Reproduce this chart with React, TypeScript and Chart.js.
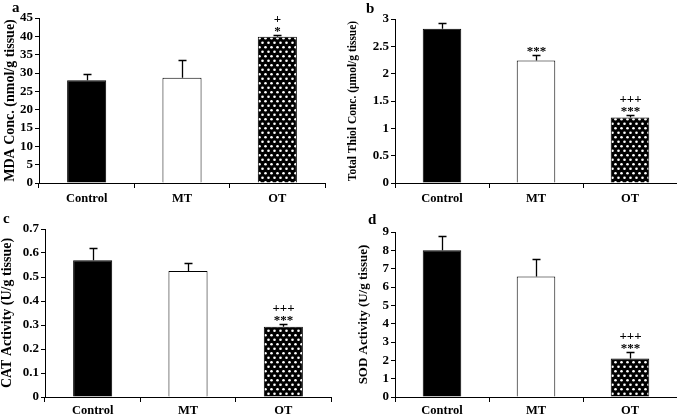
import React, { useEffect, useRef } from "react";
import { Chart, registerables } from "chart.js";

Chart.register(...registerables);

// ---------- data ----------
const categories = ["Control", "MT", "OT"];

const mdaMeans = [28.0, 28.7, 39.9];
const mdaErrors = [1.8, 4.9, 0.4];
const mdaMarks: string[][] = [[], [], ["+", "*"]];

const thiolMeans = [2.82, 2.24, 1.2];
const thiolErrors = [0.1, 0.11, 0.05];
const thiolMarks: string[][] = [[], ["***"], ["+++", "***"]];

const catMeans = [0.57, 0.525, 0.293];
const catErrors = [0.05, 0.035, 0.012];
const catMarks: string[][] = [[], [], ["+++", "***"]];

const sodMeans = [8.0, 6.57, 2.1];
const sodErrors = [0.78, 0.93, 0.37];
const sodMarks: string[][] = [[], [], ["+++", "***"]];

const mdaAxis = { max: 45, step: 5 };
const thiolAxis = { max: 3, step: 0.5 };
const catAxis = { max: 0.7, step: 0.1 };
const sodAxis = { max: 9, step: 1 };

const FONT = "'Times New Roman', 'Liberation Serif', serif";

type PanelSpec = {
  x: number; y: number; w: number; h: number;
  l: number; t: number; r: number; b: number;
  means: number[]; errors: number[]; marks: string[][];
  axis: { max: number; step: number };
  title: string; titleSize: number; titlePad: number;
  xLabelPad: number;
};

function makePattern(): CanvasPattern | string {
  const c = document.createElement("canvas");
  c.width = 6;
  c.height = 9;
  const g = c.getContext("2d");
  if (!g) return "#000";
  g.fillStyle = "#000";
  g.fillRect(0, 0, 6, 9);
  g.fillStyle = "#fff";
  g.beginPath();
  g.arc(1.5, 2.2, 1.3, 0, Math.PI * 2);
  g.fill();
  g.beginPath();
  g.arc(4.5, 6.7, 1.3, 0, Math.PI * 2);
  g.fill();
  return g.createPattern(c, "repeat") || "#000";
}

function fmt(v: number) {
  return String(Math.round(v * 1000) / 1000);
}

function errPlugin(errors: number[], marks: string[][]) {
  return {
    id: "errbars",
    afterDatasetsDraw(chart: any) {
      const ctx = chart.ctx as CanvasRenderingContext2D;
      const meta = chart.getDatasetMeta(0);
      const ys = chart.scales.y;
      const vals = chart.data.datasets[0].data as number[];
      ctx.save();
      meta.data.forEach((bar: any, i: number) => {
        const x = Math.round(bar.x) + 0.5;
        const y0 = ys.getPixelForValue(vals[i]);
        const y1 = Math.round(ys.getPixelForValue(vals[i] + errors[i])) + 0.5;
        ctx.strokeStyle = "#000";
        ctx.lineWidth = 1.3;
        ctx.beginPath();
        ctx.moveTo(x, y0);
        ctx.lineTo(x, y1);
        ctx.moveTo(x - 4, y1);
        ctx.lineTo(x + 4, y1);
        ctx.stroke();
        const lines = marks[i];
        ctx.fillStyle = "#000";
        ctx.textAlign = "center";
        ctx.textBaseline = "alphabetic";
        ctx.font = `bold 13px ${FONT}`;
        const n = lines.length;
        lines.forEach((txt, k) => {
          const center = y1 - 8 - (n - 1 - k) * 9.5;
          const base = txt.includes("*") ? center + 7 : center + 4.5;
          ctx.fillText(txt, x, base);
        });
      });
      ctx.restore();
    },
  };
}

function Panel(p: PanelSpec) {
  const ref = useRef<HTMLCanvasElement>(null);
  useEffect(() => {
    const canvas = ref.current;
    if (!canvas) return;
    const fills = ["#000", "#fff", makePattern()];
    const chart = new Chart(canvas, {
      type: "bar",
      data: {
        labels: categories,
        datasets: [
          {
            data: p.means,
            backgroundColor: fills as any,
            borderColor: "#000",
            borderWidth: 1,
            barPercentage: 0.41,
            categoryPercentage: 1,
          },
        ],
      },
      options: {
        animation: false,
        responsive: false,
        devicePixelRatio: 1,
        layout: { padding: { top: p.t, right: p.w - p.r, left: 0, bottom: 0 } },
        plugins: { legend: { display: false }, tooltip: { enabled: false } },
        scales: {
          x: {
            grid: { drawOnChartArea: false, drawTicks: true, tickLength: 5, color: "#000", offset: true },
            border: { color: "#000", width: 1 },
            ticks: { color: "#000", font: { family: FONT, size: 12.5, weight: "bold" }, padding: p.xLabelPad },
            afterFit: (s: any) => { s.height = p.h - p.b; },
          },
          y: {
            min: 0,
            max: p.axis.max,
            ticks: {
              stepSize: p.axis.step,
              autoSkip: false,
              color: "#000",
              font: { family: FONT, size: 13, weight: "bold", lineHeight: 1 },
              padding: 2,
              callback: (v: any) => fmt(Number(v)),
            },
            grid: { drawOnChartArea: false, drawTicks: true, tickLength: 4, color: "#000" },
            border: { color: "#000", width: 1 },
            title: {
              display: true,
              text: p.title,
              color: "#000",
              font: { family: FONT, size: p.titleSize, weight: "bold", lineHeight: 1 },
              padding: { top: p.titlePad, bottom: 0 },
            },
            afterFit: (s: any) => { s.width = p.l; },
          },
        },
      } as any,
      plugins: [errPlugin(p.errors, p.marks)],
    });
    return () => chart.destroy();
  }, []);
  return (
    <canvas
      ref={ref}
      width={p.w}
      height={p.h}
      style={{ position: "absolute", left: p.x, top: p.y, width: p.w, height: p.h }}
    />
  );
}

const letterStyle: React.CSSProperties = {
  position: "absolute",
  fontFamily: FONT,
  fontWeight: "bold",
  fontSize: 15,
  lineHeight: "15px",
  color: "#000",
};

export default function App() {
  return (
    <div style={{ position: "fixed", left: 0, top: 0, width: 677, height: 415, background: "#fff", overflow: "hidden" }}>
      <Panel x={0} y={0} w={338} h={207} l={39} t={18} r={325} b={183}
        means={mdaMeans} errors={mdaErrors} marks={mdaMarks} axis={mdaAxis}
        title="MDA Conc. (nmol/g tissue)" titleSize={14} titlePad={3} xLabelPad={3} />
      <Panel x={338} y={0} w={339} h={207} l={57} t={19} r={339} b={183}
        means={thiolMeans} errors={thiolErrors} marks={thiolMarks} axis={thiolAxis}
        title="Total Thiol Conc. (μmol/g tissue)" titleSize={11.5} titlePad={9} xLabelPad={3} />
      <Panel x={0} y={207} w={338} h={208} l={45} t={22} r={331} b={190}
        means={catMeans} errors={catErrors} marks={catMarks} axis={catAxis}
        title="CAT Activity (U/g tissue)" titleSize={14} titlePad={0} xLabelPad={1} />
      <Panel x={338} y={207} w={339} h={208} l={57} t={25} r={339} b={190}
        means={sodMeans} errors={sodErrors} marks={sodMarks} axis={sodAxis}
        title="SOD Activity (U/g tissue)" titleSize={13} titlePad={19} xLabelPad={1} />
      <div style={{ ...letterStyle, left: 12, top: 0 }}>a</div>
      <div style={{ ...letterStyle, left: 366, top: 1 }}>b</div>
      <div style={{ ...letterStyle, left: 3, top: 211 }}>c</div>
      <div style={{ ...letterStyle, left: 368, top: 212 }}>d</div>
    </div>
  );
}
